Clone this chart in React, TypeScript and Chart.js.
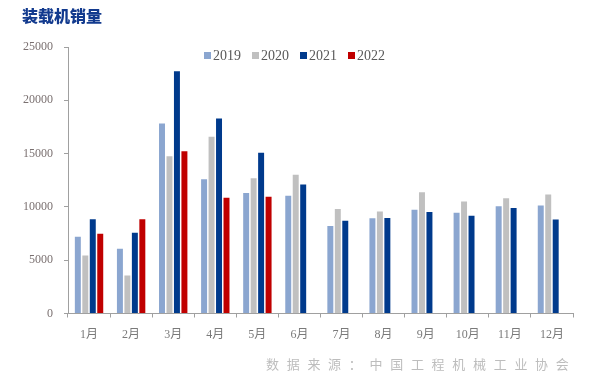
import React, { useEffect, useRef } from "react";
import { Chart, registerables } from "chart.js";

Chart.register(...registerables);

const months = ["1月", "2月", "3月", "4月", "5月", "6月", "7月", "8月", "9月", "10月", "11月", "12月"];
const sales2019 = [7200, 6080, 17830, 12590, 11310, 11040, 8210, 8930, 9740, 9460, 10060, 10120];
const sales2020 = [5450, 3570, 14760, 16570, 12690, 13020, 9800, 9560, 11370, 10500, 10810, 11160];
const sales2021 = [8830, 7580, 22720, 18300, 15070, 12090, 8710, 8960, 9520, 9180, 9900, 8810];
const sales2022 = [7490, 8830, 15230, 10870, 10960, null, null, null, null, null, null, null];
const seriesLabels = ["2019", "2020", "2021", "2022"];
const seriesColors = ["#8BA6D0", "#C0C0C0", "#003A8C", "#C00000"];
const chartTitle = "装载机销量";
const sourceText = "数据来源：中国工程机械工业协会";

const legendPlugin = {
  id: "customLegend",
  afterDraw(chart: any) {
    const ctx = chart.ctx;
    ctx.save();
    // title
    ctx.font = "900 16px 'Noto Sans CJK SC'";
    ctx.fillStyle = "#123A8E";
    ctx.textBaseline = "middle";
    ctx.textAlign = "left";
    ctx.fillText(chartTitle, 22, 16);
    // legend
    ctx.font = "14px 'Liberation Serif'";
    let x = 204;
    const y = 56;
    chart.data.datasets.forEach((ds: any) => {
      ctx.fillStyle = ds.backgroundColor;
      ctx.fillRect(x, y - 4, 7, 7);
      ctx.fillStyle = "#595959";
      ctx.fillText(ds.label, x + 9, y);
      x += 9 + ctx.measureText(ds.label).width + 11;
    });
    // source
    ctx.font = "13px 'Noto Sans CJK SC'";
    ctx.fillStyle = "#BDBDBD";
    ctx.textAlign = "left";
    const chars = Array.from(sourceText);
    let sx = 266;
    chars.forEach((c) => {
      ctx.fillText(c, sx, 364);
      sx += 20.7;
    });
    ctx.restore();
  },
};

export default function App() {
  const ref = useRef<HTMLCanvasElement>(null);
  useEffect(() => {
    if (!ref.current) return;
    const data = [sales2019, sales2020, sales2021, sales2022];
    const chart = new Chart(ref.current, {
      type: "bar",
      data: {
        labels: months,
        datasets: seriesLabels.map((l, i) => ({
          label: l,
          data: data[i],
          backgroundColor: seriesColors[i],
          categoryPercentage: 0.71,
          barPercentage: 0.8,
        })),
      },
      options: {
        animation: false,
        responsive: false,
        devicePixelRatio: 1,
        layout: { padding: { left: 0, right: 27, top: 47, bottom: 0 } },
        plugins: {
          legend: { display: false },
          title: { display: false },
          tooltip: { enabled: false },
        },
        scales: {
          x: {
            grid: { display: true, drawOnChartArea: false, offset: true, tickLength: 4, color: "#A0A0A0" },
            border: { color: "#A0A0A0", width: 1 },
            ticks: { padding: 10, color: "#7A7A7A", font: { family: "'Liberation Serif', 'Noto Sans CJK SC'", size: 12 } },
            afterFit: (s: any) => { s.height = 75.5; },
          },
          y: {
            min: 0,
            max: 25000,
            ticks: {
              stepSize: 5000,
              padding: 11,
              color: "#7A7070",
              font: { family: "'Liberation Serif'", size: 12 },
              callback: (v: any) => String(v),
            },
            grid: { display: true, drawOnChartArea: false, tickLength: 4, color: "#A0A0A0" },
            border: { color: "#A0A0A0", width: 1 },
            afterFit: (s: any) => { s.width = 68; },
          },
        },
      },
      plugins: [legendPlugin],
    });
    return () => chart.destroy();
  }, []);
  return (
    <div style={{ position: "absolute", left: 0, top: 0, width: 600, height: 389, background: "#fff" }}>
      <canvas ref={ref} width={600} height={389} style={{ width: 600, height: 389 }} />
    </div>
  );
}
